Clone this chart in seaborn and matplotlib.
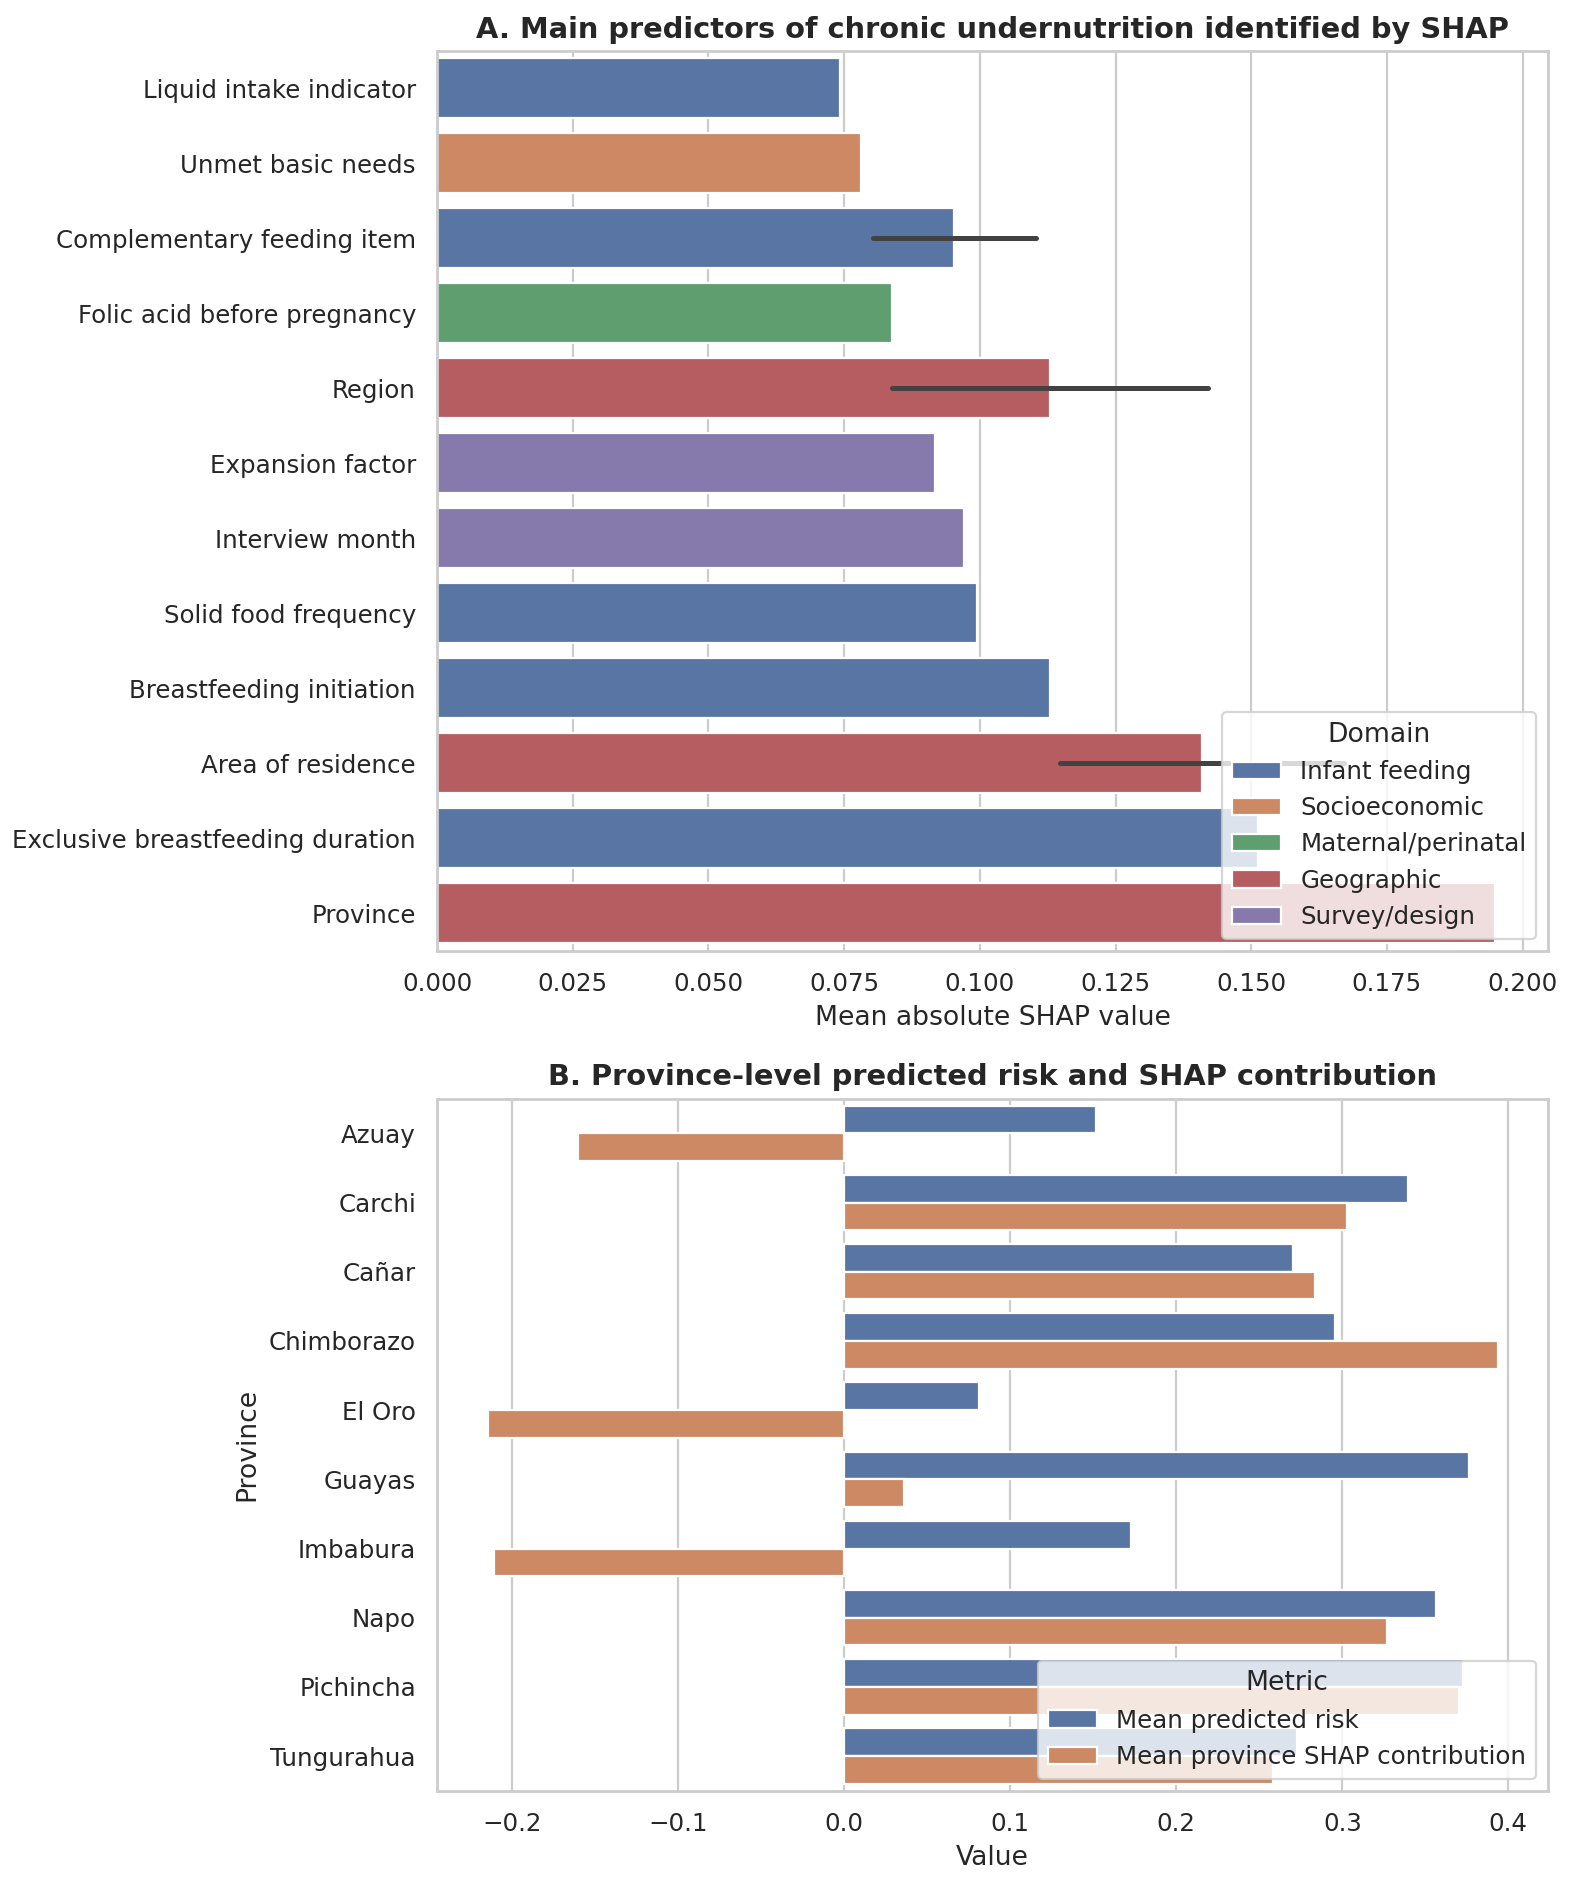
import numpy as np
import pandas as pd
import matplotlib
matplotlib.use("Agg")
import matplotlib.pyplot as plt
import seaborn as sns

# Panel A: mean |SHAP| per feature (features listed twice get a range bar)
features = [
    "Liquid intake indicator", "Unmet basic needs", "Complementary feeding item",
    "Folic acid before pregnancy", "Region", "Expansion factor", "Interview month",
    "Solid food frequency", "Complementary feeding item", "Breastfeeding initiation",
    "Area of residence", "Region", "Exclusive breastfeeding duration",
    "Area of residence", "Province",
]
shap_values = [0.0742, 0.0782, 0.0803, 0.0838, 0.0838, 0.0918, 0.0970, 0.0994,
               0.1103, 0.1129, 0.1148, 0.1420, 0.1512, 0.1670, 0.1950]
domains = [
    "Infant feeding", "Socioeconomic", "Infant feeding", "Maternal/perinatal",
    "Geographic", "Survey/design", "Survey/design", "Infant feeding",
    "Infant feeding", "Infant feeding", "Geographic", "Geographic",
    "Infant feeding", "Geographic", "Geographic",
]
domain_order = ["Infant feeding", "Socioeconomic", "Maternal/perinatal", "Geographic", "Survey/design"]

# Panel B: province-level metrics
provinces = ["Azuay", "Carchi", "Cañar", "Chimborazo", "El Oro",
             "Guayas", "Imbabura", "Napo", "Pichincha", "Tungurahua"]
mean_risk = [0.1517, 0.3395, 0.2700, 0.2953, 0.0813, 0.3761, 0.1725, 0.3567, 0.3725, 0.2727]
mean_shap = [-0.1607, 0.3029, 0.2835, 0.3937, -0.2149, 0.0361, -0.2113, 0.3269, 0.3702, 0.2582]
metrics = ["Mean predicted risk", "Mean province SHAP contribution"]

df_a = pd.DataFrame({"Feature": features, "SHAP": shap_values, "Domain": domains})
df_b = pd.DataFrame({
    "Province": provinces * 2,
    "Metric": [metrics[0]] * len(provinces) + [metrics[1]] * len(provinces),
    "Value": mean_risk + mean_shap,
})

sns.set_theme(style="whitegrid")

fig, (ax1, ax2) = plt.subplots(2, 1, figsize=(1572 / 160, 1883 / 160),
                               gridspec_kw={"height_ratios": [900, 692]})
fig.subplots_adjust(left=0.278, right=0.985, top=0.973, bottom=0.049, hspace=0.186)

sns.barplot(data=df_a, x="SHAP", y="Feature", hue="Domain", hue_order=domain_order,
            dodge=False, errorbar=("pi", 100), ax=ax1)
ax1.set_title("A. Main predictors of chronic undernutrition identified by SHAP",
              fontsize=13, fontweight="bold")
ax1.set_xlabel("Mean absolute SHAP value")
ax1.set_ylabel("")
sns.move_legend(ax1, "lower right", title="Domain")

sns.barplot(data=df_b, x="Value", y="Province", hue="Metric", errorbar=None, ax=ax2)
ax2.set_title("B. Province-level predicted risk and SHAP contribution",
              fontsize=13, fontweight="bold")
ax2.set_xlabel("Value")
ax2.set_ylabel("Province")
sns.move_legend(ax2, "lower right", title="Metric")

plt.savefig("out.png", dpi=160)
plt.close()
